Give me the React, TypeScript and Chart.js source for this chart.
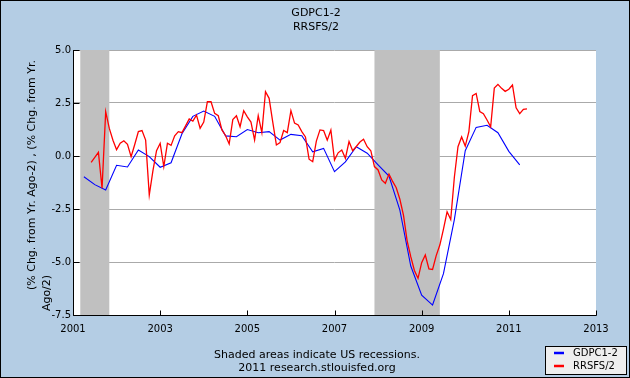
import React, { useEffect, useRef } from 'react';
import { Chart, registerables } from 'chart.js';

Chart.register(...registerables);

const W = 630;
const H = 378;
const BG = '#B4CDE4';
const FONT = 'DejaVu Sans';

const titleLines = ['GDPC1-2', 'RRSFS/2'];
const yTitleLines = ['(% Chg. from Yr. Ago-2) , (% Chg. from Yr.', 'Ago/2)'];
const footerLines = ['Shaded areas indicate US recessions.', '2011 research.stlouisfed.org'];
const seriesNames = ['GDPC1-2', 'RRSFS/2'];
const seriesColors = ['#0000FF', '#FF0000'];

const xTickYears = [2001, 2003, 2005, 2007, 2009, 2011, 2013];
const yTicks = [-7.5, -5, -2.5, 0, 2.5, 5];

// recession shading (decimal years)
const recessionStarts = [2001.167, 2007.917];
const recessionEnds = [2001.833, 2009.417];

// GDPC1-2 : quarterly, from 2001 Q2
const gdpStart = 2001.25;
const gdpStep = 0.25;
const gdpValues = [
  -0.98, -1.35, -1.6, -0.44, -0.52, 0.28, -0.03, -0.53, -0.32, 1.05,
  1.87, 2.12, 1.87, 0.95, 0.91, 1.25, 1.1, 1.15, 0.75, 1.02,
  0.96, 0.2, 0.36, -0.74, -0.28, 0.44, 0.13, -0.42, -0.95, -2.55,
  -5.19, -6.56, -7.03, -5.55, -3.0, 0.25, 1.35, 1.45, 1.1, 0.22,
  -0.42,
];

// RRSFS/2 : monthly, from 2001-06
const rsStart = 2001 + 5 / 12;
const rsStep = 1 / 12;
const rsValues = [
  -0.3, -0.07, 0.17, -1.52, 2.09, 1.3, 0.74, 0.3, 0.6, 0.72,
  0.55, -0.03, 0.54, 1.15, 1.2, 0.75, -1.84, -0.7, 0.25, 0.6,
  -0.5, 0.6, 0.5, 0.95, 1.15, 1.1, 1.42, 1.75, 1.65, 1.93,
  1.31, 1.6, 2.56, 2.56, 2.01, 1.9, 1.23, 0.97, 0.57, 1.72,
  1.9, 1.38, 2.14, 1.85, 1.6, 0.75, 1.9, 1.1, 3.03, 2.72,
  1.6, 0.52, 0.63, 1.2, 1.1, 2.14, 1.55, 1.46, 1.15, 0.9,
  -0.15, -0.27, 0.7, 1.23, 1.2, 0.75, 1.22, -0.19, 0.15, 0.28,
  -0.11, 0.68, 0.25, 0.45, 0.66, 0.79, 0.44, 0.25, -0.5, -0.66,
  -1.13, -1.29, -0.85, -1.2, -1.5, -2.04, -2.8, -4.0, -4.75, -5.4,
  -5.77, -5.03, -4.67, -5.33, -5.35, -4.7, -4.2, -3.45, -2.63, -3.0,
  -1.0, 0.44, 0.9, 0.47, 1.15, 2.85, 2.95, 2.1, 2.0, 1.7,
  1.38, 3.2, 3.38, 3.19, 3.05, 3.15, 3.35, 2.27, 2.0, 2.2,
  2.22,
];

const toPoints = (start: number, step: number, vals: number[]) =>
  vals.map((v, i) => ({ x: start + i * step, y: v }));

const decor = {
  id: 'decor',
  beforeDraw(chart: any) {
    const { ctx, chartArea: a } = chart;
    ctx.save();
    ctx.fillStyle = BG;
    ctx.fillRect(0, 0, W, H);
    ctx.fillStyle = '#FFFFFF';
    ctx.fillRect(a.left, a.top, a.right - a.left, a.bottom - a.top);
    ctx.restore();
  },
  beforeDatasetsDraw(chart: any) {
    const { ctx, chartArea: a, scales } = chart;
    ctx.save();
    ctx.fillStyle = '#C0C0C0';
    for (let i = 0; i < recessionStarts.length; i++) {
      const x0 = scales.x.getPixelForValue(recessionStarts[i]);
      const x1 = scales.x.getPixelForValue(recessionEnds[i]);
      ctx.fillRect(x0, a.top, x1 - x0, a.bottom - a.top);
    }
    ctx.restore();
  },
  afterDatasetsDraw(chart: any) {
    const { ctx, chartArea: a, scales } = chart;
    ctx.save();
    // axes
    ctx.strokeStyle = '#000';
    ctx.lineWidth = 1;
    const L = Math.round(a.left) + 0.5;
    const B = Math.round(a.bottom) + 0.5;
    ctx.beginPath();
    ctx.moveTo(L, a.top);
    ctx.lineTo(L, B);
    ctx.lineTo(Math.round(a.right) + 0.5, B);
    ctx.stroke();
    ctx.beginPath();
    for (const yr of xTickYears) {
      const x = Math.round(scales.x.getPixelForValue(yr)) + 0.5;
      ctx.moveTo(x, B);
      ctx.lineTo(x, B - 5);
    }
    for (const t of yTicks) {
      const y = Math.round(scales.y.getPixelForValue(t)) + 0.5;
      ctx.moveTo(L, y);
      ctx.lineTo(L + 6, y);
    }
    ctx.stroke();

    // title
    ctx.fillStyle = '#000';
    ctx.textAlign = 'center';
    ctx.textBaseline = 'middle';
    ctx.font = `11px "${FONT}"`;
    ctx.fillText(titleLines[0], 316, 13);
    ctx.fillText(titleLines[1], 316, 27);

    // footer
    ctx.fillText(footerLines[0], 317, 355);
    ctx.fillText(footerLines[1], 317, 368);

    // y-axis title
    ctx.save();
    ctx.translate(32, 175);
    ctx.rotate(-Math.PI / 2);
    ctx.fillText(yTitleLines[0], 0, 0);
    ctx.restore();
    ctx.save();
    ctx.translate(47, 293);
    ctx.rotate(-Math.PI / 2);
    ctx.fillText(yTitleLines[1], 0, 0);
    ctx.restore();

    // legend
    ctx.fillStyle = '#EEEEEE';
    ctx.fillRect(545.5, 346.5, 81, 28);
    ctx.strokeStyle = '#000';
    ctx.strokeRect(545.5, 346.5, 81, 28);
    ctx.lineWidth = 2.5;
    const rows = [353, 366];
    ctx.font = `10px "${FONT}"`;
    ctx.textAlign = 'left';
    for (let i = 0; i < 2; i++) {
      ctx.strokeStyle = seriesColors[i];
      ctx.beginPath();
      ctx.moveTo(554, rows[i]);
      ctx.lineTo(564, rows[i]);
      ctx.stroke();
      ctx.fillStyle = '#000';
      ctx.fillText(seriesNames[i], 573, rows[i]);
    }

    // outer border
    ctx.strokeStyle = '#000';
    ctx.lineWidth = 1;
    ctx.strokeRect(0.5, 0.5, W - 1, H - 1);
    ctx.restore();
  },
};

export default function App() {
  const ref = useRef<HTMLCanvasElement | null>(null);

  useEffect(() => {
    document.body.style.margin = '0';
    const canvas = ref.current;
    if (!canvas) return;
    const chart = new Chart(canvas, {
      type: 'line',
      data: {
        datasets: [
          {
            label: seriesNames[1],
            data: toPoints(rsStart, rsStep, rsValues),
            borderColor: seriesColors[1],
            borderWidth: 1.3,
            pointRadius: 0,
            tension: 0,
            order: 0,
          },
          {
            label: seriesNames[0],
            data: toPoints(gdpStart, gdpStep, gdpValues),
            borderColor: seriesColors[0],
            borderWidth: 1.1,
            pointRadius: 0,
            tension: 0,
            order: 1,
          },
        ],
      },
      options: {
        responsive: false,
        animation: false,
        events: [],
        layout: { padding: { left: 0, right: 34, top: 50, bottom: 38 } },
        scales: {
          x: {
            type: 'linear',
            min: 2001,
            max: 2013,
            ticks: {
              stepSize: 2,
              maxRotation: 0,
              autoSkip: false,
              padding: 8,
              color: '#000',
              font: { family: FONT, size: 10 },
              callback: (v: any) => String(v),
            },
            grid: { display: false, drawTicks: false },
            border: { display: false },
            afterFit: (s: any) => {
              s.height = 25;
            },
          },
          y: {
            min: -7.5,
            max: 5,
            ticks: {
              stepSize: 2.5,
              padding: 2,
              color: '#000',
              font: { family: FONT, size: 10 },
              callback: (v: any) => Number(v).toFixed(1),
            },
            grid: { color: '#AAAAAA', lineWidth: 1, drawTicks: false },
            border: { display: false },
            afterFit: (s: any) => {
              s.width = 73;
            },
          },
        },
        plugins: {
          legend: { display: false },
          title: { display: false },
          tooltip: { enabled: false },
        },
      },
      plugins: [decor],
    });
    return () => chart.destroy();
  }, []);

  return (
    <div style={{ position: 'absolute', left: 0, top: 0, width: W, height: H }}>
      <canvas ref={ref} width={W} height={H} style={{ width: W, height: H, display: 'block' }} />
    </div>
  );
}
